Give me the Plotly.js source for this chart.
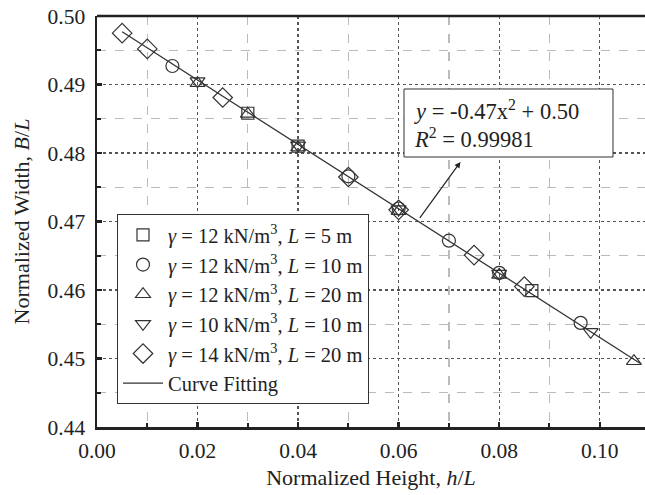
<!DOCTYPE html>
<html>
<head>
<meta charset="utf-8">
<script src="https://cdn.plot.ly/plotly-3.0.1.min.js"></script>
<style>html,body{margin:0;padding:0;background:#fff;}#chart{width:645px;height:495px;}</style>
</head>
<body>
<div id="chart"></div>
<script>
// Data
const seriesNames = [
  "<i>γ</i> = 12 kN/m<sup>3</sup>, <i>L</i> = 5 m",
  "<i>γ</i> = 12 kN/m<sup>3</sup>, <i>L</i> = 10 m",
  "<i>γ</i> = 12 kN/m<sup>3</sup>, <i>L</i> = 20 m",
  "<i>γ</i> = 10 kN/m<sup>3</sup>, <i>L</i> = 10 m",
  "<i>γ</i> = 14 kN/m<sup>3</sup>, <i>L</i> = 20 m"
];
const sqX = [0.030, 0.040, 0.0865];
const sqY = [0.4858, 0.4810, 0.4599];
const ciX = [0.015, 0.050, 0.060, 0.070, 0.080, 0.0962];
const ciY = [0.4927, 0.4766, 0.4719, 0.4672, 0.4625, 0.4552];
const tuX = [0.020, 0.030, 0.040, 0.060, 0.080, 0.1068];
const tuY = [0.4902, 0.4857, 0.4808, 0.4715, 0.4622, 0.4496];
const tdX = [0.020, 0.040, 0.060, 0.080, 0.0982];
const tdY = [0.4905, 0.4811, 0.4718, 0.4624, 0.4539];
const diX = [0.005, 0.010, 0.025, 0.050, 0.060, 0.075, 0.085];
const diY = [0.4975, 0.4952, 0.4881, 0.4765, 0.4717, 0.4651, 0.4605];
const fitX = [0.005, 0.108];
const fitY = [0.4977, 0.4493];
const fitName = "Curve Fitting";
const fitLine1 = "<i>y</i> = -0.47x<sup>2</sup> + 0.50";
const fitLine2 = "<i>R</i><sup>2</sup> = 0.99981";
const xTitle = "Normalized Height, <i>h</i>/<i>L</i>";
const yTitle = "Normalized Width, <i>B</i>/<i>L</i>";

const FONT = "Liberation Serif, Times New Roman, serif";
const mk = (sym, size) => ({symbol: sym, size: size, color: "#333", line: {color: "#333", width: 1.2}});

const traces = [
  {x: sqX, y: sqY, name: seriesNames[0], mode: "markers", marker: mk("square-open", 12)},
  {x: ciX, y: ciY, name: seriesNames[1], mode: "markers", marker: mk("circle-open", 13)},
  {x: tuX, y: tuY, name: seriesNames[2], mode: "markers", marker: mk("triangle-up-open", 13)},
  {x: tdX, y: tdY, name: seriesNames[3], mode: "markers", marker: mk("triangle-down-open", 13)},
  {x: diX, y: diY, name: seriesNames[4], mode: "markers", marker: mk("diamond-open", 15)},
  {x: fitX, y: fitY, name: fitName, mode: "lines", line: {color: "#333", width: 1.3}}
];

const axisCommon = {
  showline: true, linecolor: "#222", linewidth: 2.5,
  ticks: "inside", ticklen: 5, tickwidth: 2.5, tickcolor: "#222",
  showgrid: true, gridcolor: "#555", gridwidth: 1.3, griddash: "dot",
  zeroline: false, tickformat: ".2f",
  tickfont: {family: FONT, size: 21.5, color: "#222"}
};

const layout = {
  width: 645, height: 495,
  margin: {l: 97, r: 0, t: 16, b: 68},
  paper_bgcolor: "#fff", plot_bgcolor: "#fff",
  font: {family: FONT, color: "#222"},
  showlegend: true,
  xaxis: Object.assign({}, axisCommon, {
    range: [0, 0.109], dtick: 0.02, tick0: 0, ticklabelstandoff: 3,
    minor: {dtick: 0.01, showgrid: true, gridcolor: "#bbb", gridwidth: 1.3, griddash: "dash", ticks: "inside", ticklen: 4, tickwidth: 2, tickcolor: "#222"},
    title: {text: xTitle, font: {family: FONT, size: 22, color: "#222"}, standoff: 8}
  }),
  yaxis: Object.assign({}, axisCommon, {
    range: [0.44, 0.50], dtick: 0.01, tick0: 0.44, ticklabelstandoff: 5,
    minor: {dtick: 0.005, showgrid: true, gridcolor: "#bbb", gridwidth: 1.3, griddash: "dash", ticks: "inside", ticklen: 4, tickwidth: 2, tickcolor: "#222"},
    title: {text: yTitle, font: {family: FONT, size: 22, color: "#222"}, standoff: 12}
  }),
  legend: {
    x: 0.0365, y: 0.518, xanchor: "left", yanchor: "top",
    bgcolor: "#fff", bordercolor: "#333", borderwidth: 1,
    font: {family: FONT, size: 20.5, color: "#222"},
    itemwidth: 40, tracegroupgap: 0
  },
  shapes: [
    {type: "line", xref: "paper", yref: "paper", x0: 0, x1: 1, y0: 1, y1: 1, line: {color: "#222", width: 2.5}},
    {type: "rect", xref: "paper", yref: "paper", x0: 0.5602, x1: 0.9416, y0: 0.6569, y1: 0.8224,
     fillcolor: "#fff", line: {color: "#333", width: 1}, layer: "above"}
  ],
  annotations: [
    {xref: "paper", yref: "paper", x: 0.574, y: 0.7713, xanchor: "left", yanchor: "middle",
     text: fitLine1, showarrow: false, font: {family: FONT, size: 22.5, color: "#222"}},
    {xref: "paper", yref: "paper", x: 0.574, y: 0.7020, xanchor: "left", yanchor: "middle",
     text: fitLine2, showarrow: false, font: {family: FONT, size: 22.5, color: "#222"}},
    {xref: "x", yref: "y", x: 0.0723, y: 0.4787, axref: "x", ayref: "y", ax: 0.064, ay: 0.4703,
     text: "", showarrow: true, arrowhead: 2, arrowsize: 1, arrowwidth: 1.2, arrowcolor: "#222"}
  ]
};

Plotly.newPlot("chart", traces, layout, {displayModeBar: false, staticPlot: true});
</script>
</body>
</html>
